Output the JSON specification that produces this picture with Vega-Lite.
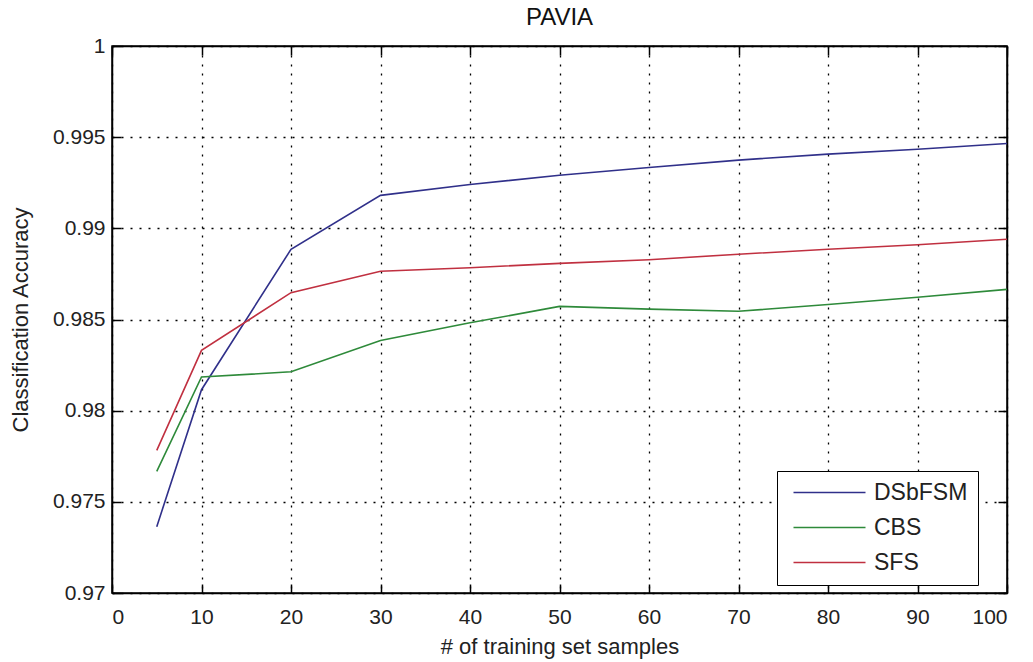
{
  "$schema": "https://vega.github.io/schema/vega-lite/v6.json",
  "width": 895,
  "height": 547,
  "autosize": {"type": "none"},
  "padding": {"left": 112, "top": 46, "right": 26, "bottom": 69},
  "background": "white",
  "title": {"text": "PAVIA", "font": "Liberation Sans", "fontSize": 24, "fontWeight": "normal", "color": "#111", "offset": 5},
  "config": {
    "view": {"stroke": "#000", "strokeWidth": 1.5},
    "axis": {"labelFont": "Liberation Sans", "titleFont": "Liberation Sans", "labelFontSize": 21, "titleFontSize": 22, "labelColor": "#222", "titleColor": "#222", "titleFontWeight": "normal", "domainColor": "#000", "domainWidth": 1.5, "tickColor": "#000", "tickWidth": 1.5, "tickSize": -9},
    "legend": {"labelFont": "Liberation Sans", "labelFontSize": 23, "labelColor": "#222"}
  },
  "data": {"values": [
    {"samples": 5, "method": "DSbFSM", "accuracy": 0.97364},
    {"samples": 10, "method": "DSbFSM", "accuracy": 0.98115},
    {"samples": 20, "method": "DSbFSM", "accuracy": 0.98885},
    {"samples": 30, "method": "DSbFSM", "accuracy": 0.99181},
    {"samples": 40, "method": "DSbFSM", "accuracy": 0.9924},
    {"samples": 50, "method": "DSbFSM", "accuracy": 0.99291},
    {"samples": 60, "method": "DSbFSM", "accuracy": 0.99334},
    {"samples": 70, "method": "DSbFSM", "accuracy": 0.99374},
    {"samples": 80, "method": "DSbFSM", "accuracy": 0.99407},
    {"samples": 90, "method": "DSbFSM", "accuracy": 0.99434},
    {"samples": 100, "method": "DSbFSM", "accuracy": 0.99465},
    {"samples": 5, "method": "CBS", "accuracy": 0.97667},
    {"samples": 10, "method": "CBS", "accuracy": 0.98185},
    {"samples": 20, "method": "CBS", "accuracy": 0.98213},
    {"samples": 30, "method": "CBS", "accuracy": 0.98385},
    {"samples": 40, "method": "CBS", "accuracy": 0.98482},
    {"samples": 50, "method": "CBS", "accuracy": 0.98572},
    {"samples": 60, "method": "CBS", "accuracy": 0.98557},
    {"samples": 70, "method": "CBS", "accuracy": 0.98545},
    {"samples": 80, "method": "CBS", "accuracy": 0.98582},
    {"samples": 90, "method": "CBS", "accuracy": 0.98622},
    {"samples": 100, "method": "CBS", "accuracy": 0.98665},
    {"samples": 5, "method": "SFS", "accuracy": 0.97782},
    {"samples": 10, "method": "SFS", "accuracy": 0.98331},
    {"samples": 20, "method": "SFS", "accuracy": 0.98647},
    {"samples": 30, "method": "SFS", "accuracy": 0.98765},
    {"samples": 40, "method": "SFS", "accuracy": 0.98784},
    {"samples": 50, "method": "SFS", "accuracy": 0.98808},
    {"samples": 60, "method": "SFS", "accuracy": 0.98828},
    {"samples": 70, "method": "SFS", "accuracy": 0.98858},
    {"samples": 80, "method": "SFS", "accuracy": 0.98885},
    {"samples": 90, "method": "SFS", "accuracy": 0.9891},
    {"samples": 100, "method": "SFS", "accuracy": 0.9894}
  ]},
  "layer": [
    {
      "mark": {"type": "line", "strokeWidth": 1.6},
      "encoding": {
        "x": {"field": "samples", "type": "quantitative", "scale": {"domain": [0, 100], "nice": false},
          "axis": {"orient": "bottom", "values": [0, 10, 20, 30, 40, 50, 60, 70, 80, 90, 100], "grid": true, "gridColor": "#000", "gridDash": [2, 7], "gridWidth": 1.3, "title": "# of training set samples", "labelPadding": 22, "titlePadding": 9}},
        "y": {"field": "accuracy", "type": "quantitative", "scale": {"domain": [0.97, 1], "nice": false, "zero": false},
          "axis": {"orient": "left", "values": [0.97, 0.975, 0.98, 0.985, 0.99, 0.995, 1], "format": "~g", "grid": true, "gridColor": "#000", "gridDash": [2, 7], "gridWidth": 1.3, "title": "Classification Accuracy", "labelPadding": 16, "titlePadding": 20}},
        "color": {"field": "method", "type": "nominal", "sort": ["DSbFSM", "CBS", "SFS"],
          "scale": {"domain": ["DSbFSM", "CBS", "SFS"], "range": ["#30308a", "#2e8a3a", "#c03040"]},
          "legend": {"orient": "none", "legendX": 665, "legendY": 425, "title": null, "symbolType": "M-0.5,0L6.7,0", "symbolSize": 400, "symbolStrokeWidth": 1.6, "symbolFillColor": "transparent", "strokeColor": "#000", "fillColor": "#fff", "padding": 10, "labelOffset": 64, "rowPadding": 11}}
      }
    },
    {
      "mark": {"type": "line", "strokeOpacity": 0},
      "encoding": {
        "x": {"field": "samples", "type": "quantitative",
          "axis": {"orient": "top", "values": [0, 10, 20, 30, 40, 50, 60, 70, 80, 90, 100], "labels": false, "title": null, "grid": false}},
        "y": {"field": "accuracy", "type": "quantitative",
          "axis": {"orient": "right", "values": [0.97, 0.975, 0.98, 0.985, 0.99, 0.995, 1], "labels": false, "title": null, "grid": false}},
        "detail": {"field": "method"}
      }
    }
  ],
  "resolve": {"axis": {"x": "independent", "y": "independent"}}
}
